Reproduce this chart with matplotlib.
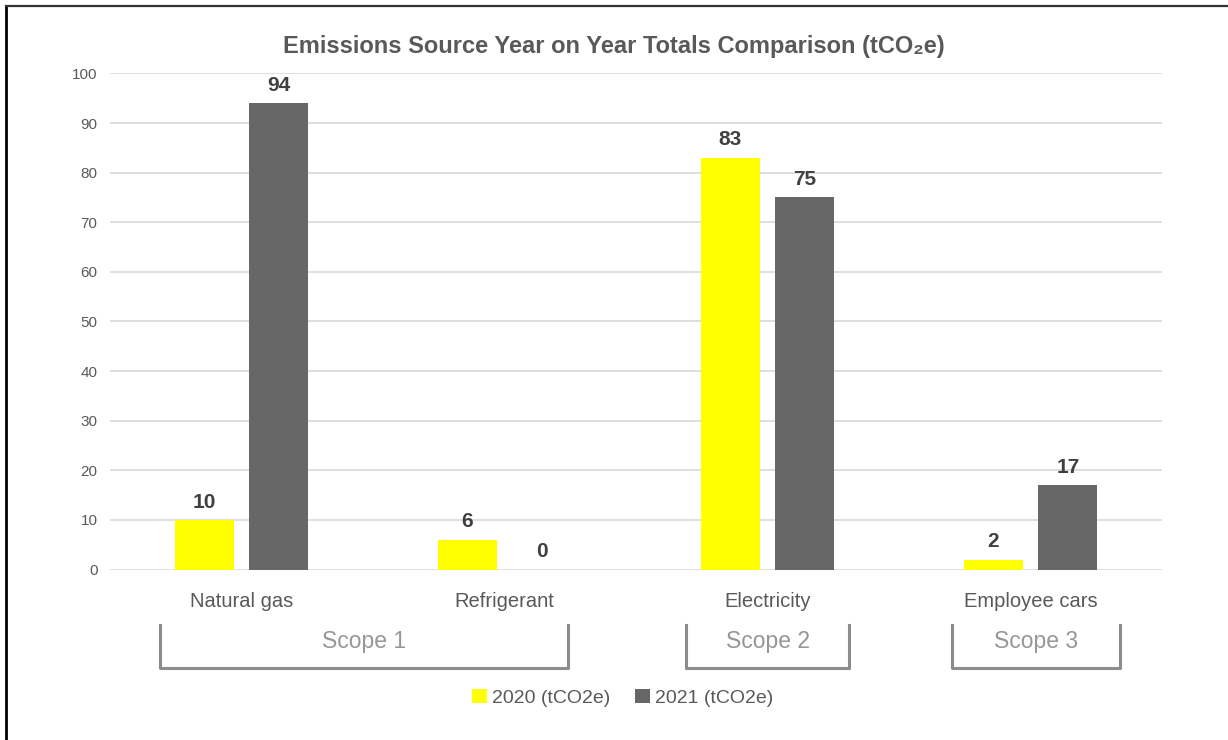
import numpy as np
import matplotlib
matplotlib.use('Agg')
from matplotlib import pyplot as plt
from matplotlib.lines import Line2D

# Schrift: Liberation Sans, Fallback DejaVu
plt.rcParams['font.family'] = ['Liberation Sans', 'DejaVu Sans']

# Daten
kategorien = ['Natural gas', 'Refrigerant', 'Electricity', 'Employee cars']
werte_2020 = [10, 6, 83, 2]
werte_2021 = [94, 0, 75, 17]
serien = ['2020 (tCO2e)', '2021 (tCO2e)']
scopes = ['Scope 1', 'Scope 2', 'Scope 3']
y_ticks = [0, 10, 20, 30, 40, 50, 60, 70, 80, 90, 100]

# Farben
gelb = '#FFFF00'
grau = '#676767'
text_grau = '#595959'

fig = plt.figure(figsize=(12.28, 7.40), dpi=100)
ax = fig.add_axes([0.0896, 0.2304, 0.8567, 0.6703])

x = np.arange(len(kategorien))
breite = 0.224
b1 = ax.bar(x - 0.142, werte_2020, breite, color=gelb, label=serien[0], zorder=3)
b2 = ax.bar(x + 0.142, werte_2021, breite, color=grau, label=serien[1], zorder=3)

# Datenbeschriftungen
for balken in (b1, b2):
    ax.bar_label(balken, padding=6, fontsize=15, fontweight='bold', color='#404040')

ax.set_xlim(-0.5, len(kategorien) - 0.5)
ax.set_ylim(0, 100)
ax.set_yticks(y_ticks)
ax.set_xticks(x)
ax.set_xticklabels(kategorien, fontsize=14.5, color=text_grau)
ax.tick_params(axis='x', length=0, pad=16)
ax.tick_params(axis='y', length=0, pad=9, labelsize=11, labelcolor=text_grau)
ax.grid(axis='y', color='#D9D9D9', linewidth=1.2, zorder=0)
for s in ax.spines.values():
    s.set_visible(False)

# Klammern fuer die Scopes (x in Daten, y in Achsenkoordinaten)
trans = ax.get_xaxis_transform()
scope_grenzen = [(-0.31, 1.24), (1.69, 2.31), (2.70, 3.34)]
y_oben, y_unten = -0.112, -0.199
for name, (links, rechts) in zip(scopes, scope_grenzen):
    ax.add_line(Line2D([links, links, rechts, rechts], [y_oben, y_unten, y_unten, y_oben],
                       transform=trans, color='#8C8C8C', linewidth=2.2, clip_on=False))
    ax.text((links + rechts) / 2, -0.146, name, transform=trans, ha='center', va='center',
            fontsize=16.5, color='#969696')

# Titel
fig.text(0.5, 1 - 46 / 740, 'Emissions Source Year on Year Totals Comparison (tCO\u2082e)',
         ha='center', va='center', fontsize=17, fontweight='bold', color=text_grau)

# Legende
fig.legend(loc='center', bbox_to_anchor=(0.507, 1 - 698 / 740), ncol=2, frameon=False,
           fontsize=14, handlelength=0.75, handleheight=0.75, handletextpad=0.25,
           columnspacing=1.3, labelcolor=text_grau)

# Rahmen links und oben
fig.add_artist(Line2D([5.5 / 1228, 5.5 / 1228], [0, 1 - 5.5 / 740], transform=fig.transFigure,
                      color='black', linewidth=2))
fig.add_artist(Line2D([5.5 / 1228, 1], [1 - 5.5 / 740, 1 - 5.5 / 740], transform=fig.transFigure,
                      color='#333333', linewidth=1.6))

fig.savefig('out.png', dpi=100)
